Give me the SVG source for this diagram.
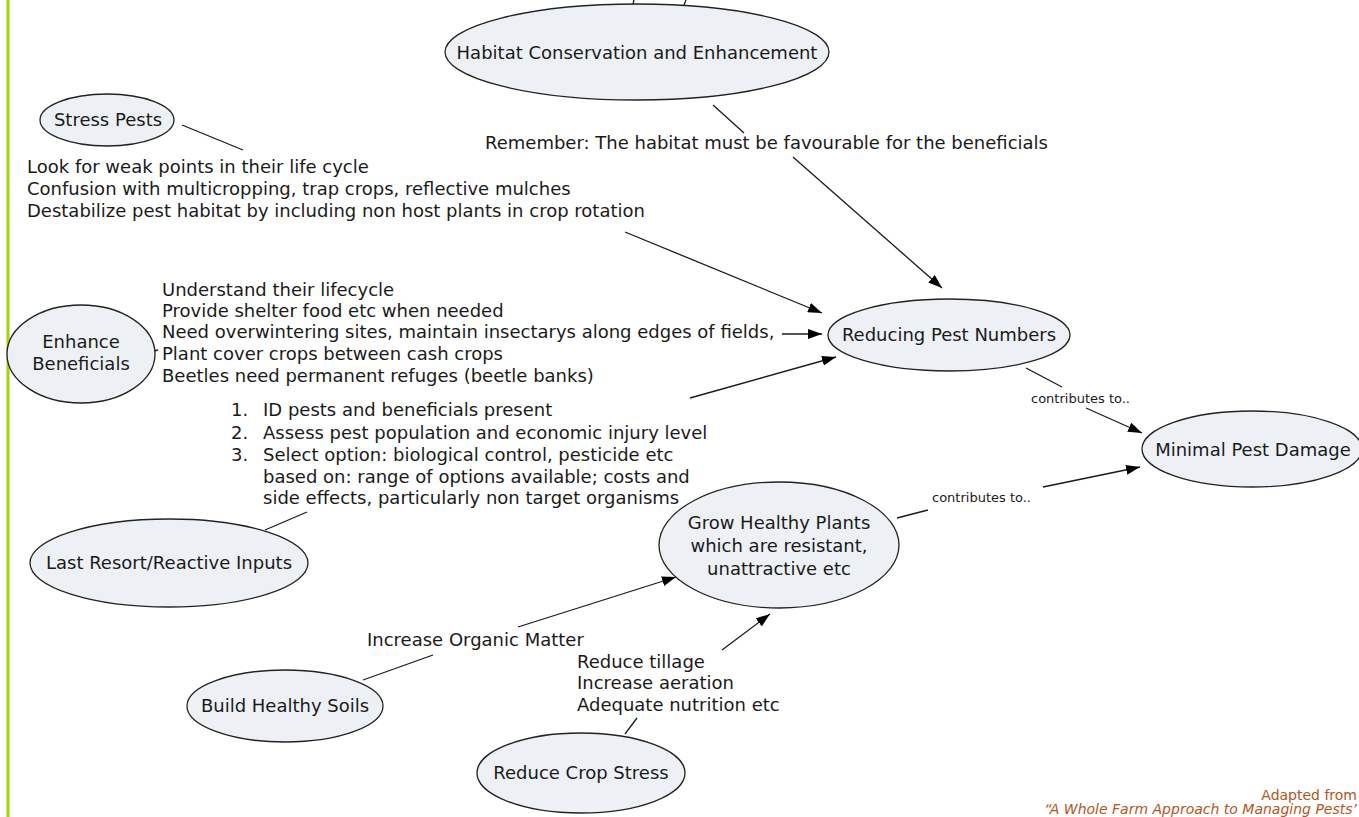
<svg xmlns="http://www.w3.org/2000/svg" width="1359" height="817" viewBox="0 0 1359 817">
<style>
.node ellipse{fill:#edf1f5;stroke:#222;stroke-width:1.3}
.nt{font-family:"DejaVu Sans",Verdana,sans-serif;font-size:18px;fill:#1a1a1a;text-anchor:middle}
.lt{font-family:"DejaVu Sans",Verdana,sans-serif;font-size:18px;fill:#1a1a1a}
.cl{font-family:"DejaVu Sans",Verdana,sans-serif;font-size:13px;fill:#1a1a1a}
.conn line{stroke:#1a1a1a;stroke-width:1.3}
.src{font-family:"DejaVu Sans",Verdana,sans-serif;font-size:14px;fill:#b5561b;text-anchor:end}
</style>
<defs>
<marker id="ah" viewBox="0 0 14 10" refX="14" refY="5" markerWidth="14" markerHeight="10" markerUnits="userSpaceOnUse" orient="auto">
<path d="M0,0 L14,5 L0,10 z" fill="#000"/>
</marker>
</defs>
<rect width="1359" height="817" fill="#fff"/>
<line x1="8" y1="0" x2="8" y2="817" stroke="#a6d400" stroke-width="3"/>

<g id="connectors" class="conn">
<line x1="634" y1="0" x2="633" y2="4"/>
<line x1="686" y1="0" x2="684" y2="5"/>
<line x1="713" y1="105" x2="744" y2="133"/>
<line x1="793" y1="157" x2="942" y2="288" marker-end="url(#ah)"/>
<line x1="182" y1="125" x2="243" y2="150"/>
<line x1="625" y1="232" x2="822" y2="313" marker-end="url(#ah)"/>
<line x1="154" y1="351" x2="158" y2="350"/>
<line x1="782" y1="334" x2="822" y2="334" marker-end="url(#ah)"/>
<line x1="690" y1="398" x2="836" y2="357" marker-end="url(#ah)"/>
<line x1="265" y1="530" x2="307" y2="512"/>
<line x1="1026" y1="368" x2="1062" y2="387"/>
<line x1="1086" y1="408" x2="1142" y2="433" marker-end="url(#ah)"/>
<line x1="897" y1="518" x2="928" y2="510"/>
<line x1="1043" y1="487" x2="1140" y2="467" marker-end="url(#ah)"/>
<line x1="363" y1="680" x2="433" y2="655"/>
<line x1="518" y1="627" x2="676" y2="577" marker-end="url(#ah)"/>
<line x1="625" y1="734" x2="637" y2="718"/>
<line x1="722" y1="650" x2="770" y2="614" marker-end="url(#ah)"/>
</g>

<g id="habitat" class="node"><ellipse cx="637" cy="52" rx="192" ry="48"/><text class="nt" x="637" y="59">Habitat Conservation and Enhancement</text></g>
<g id="stress-pests" class="node"><ellipse cx="107" cy="120" rx="67" ry="26"/><text class="nt" x="108" y="126">Stress Pests</text></g>
<g id="enhance-beneficials" class="node"><ellipse cx="81" cy="354" rx="74" ry="49"/><text class="nt" x="81" y="348">Enhance</text><text class="nt" x="81" y="370">Beneficials</text></g>
<g id="reducing" class="node"><ellipse cx="949" cy="335" rx="121" ry="36"/><text class="nt" x="949" y="341">Reducing Pest Numbers</text></g>
<g id="minimal" class="node"><ellipse cx="1252" cy="449" rx="110" ry="38"/><text class="nt" x="1253" y="456">Minimal Pest Damage</text></g>
<g id="last-resort" class="node"><ellipse cx="169" cy="563" rx="139" ry="44"/><text class="nt" x="169" y="569">Last Resort/Reactive Inputs</text></g>
<g id="grow" class="node"><ellipse cx="779" cy="545" rx="120" ry="63"/><text class="nt" x="779" y="529">Grow Healthy Plants</text><text class="nt" x="779" y="552">which are resistant,</text><text class="nt" x="779" y="575">unattractive etc</text></g>
<g id="soils" class="node"><ellipse cx="285" cy="706" rx="98" ry="36"/><text class="nt" x="285" y="712">Build Healthy Soils</text></g>
<g id="crop-stress" class="node"><ellipse cx="581" cy="773" rx="104" ry="40"/><text class="nt" x="581" y="779">Reduce Crop Stress</text></g>

<g id="labels">
<text class="lt" x="485" y="149">Remember: The habitat must be favourable for the beneficials</text>
<text class="lt" x="27" y="173">Look for weak points in their life cycle</text>
<text class="lt" x="27" y="195">Confusion with multicropping, trap crops, reflective mulches</text>
<text class="lt" x="27" y="217">Destabilize pest habitat by including non host plants in crop rotation</text>
<text class="lt" x="162" y="296">Understand their lifecycle</text>
<text class="lt" x="162" y="317">Provide shelter food etc when needed</text>
<text class="lt" x="162" y="338">Need overwintering sites, maintain insectarys along edges of fields,</text>
<text class="lt" x="162" y="360">Plant cover crops between cash crops</text>
<text class="lt" x="162" y="382">Beetles need permanent refuges (beetle banks)</text>
<text class="lt" x="231" y="416">1.</text><text class="lt" x="263" y="416">ID pests and beneficials present</text>
<text class="lt" x="231" y="439">2.</text><text class="lt" x="263" y="439">Assess pest population and economic injury level</text>
<text class="lt" x="231" y="461">3.</text><text class="lt" x="263" y="461">Select option: biological control, pesticide etc</text>
<text class="lt" x="263" y="483">based on: range of options available; costs and</text>
<text class="lt" x="263" y="504">side effects, particularly non target organisms</text>
<text class="cl" x="1031" y="403">contributes to..</text>
<text class="cl" x="932" y="502">contributes to..</text>
<text class="lt" x="367" y="646">Increase Organic Matter</text>
<text class="lt" x="577" y="668">Reduce tillage</text>
<text class="lt" x="577" y="689">Increase aeration</text>
<text class="lt" x="577" y="711">Adequate nutrition etc</text>
<text class="src" x="1357" y="800">Adapted from</text>
<text class="src" x="1357" y="814" font-style="italic">“A Whole Farm Approach to Managing Pests’</text>
</g>
</svg>
